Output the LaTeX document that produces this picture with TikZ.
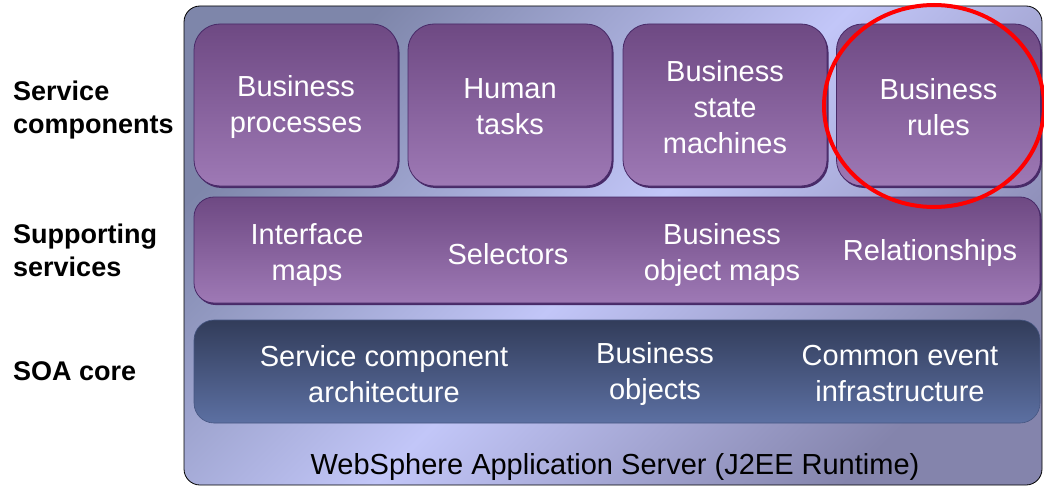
\documentclass[tikz,border=0pt]{standalone}
\usepackage{fontspec}
\setmainfont{Liberation Sans}
\usepackage{tikz}
\usetikzlibrary{shadows}
\usetikzlibrary{positioning}
\definecolor{frameA}{RGB}{126,134,170}
\definecolor{frameB}{RGB}{194,198,248}
\definecolor{frameC}{RGB}{132,132,172}
\definecolor{plumtop}{RGB}{110,73,131}
\definecolor{plumbot}{RGB}{158,121,181}
\definecolor{plumedge}{RGB}{72,42,104}
\definecolor{coretop}{RGB}{50,60,90}
\definecolor{corebot}{RGB}{92,112,162}
\definecolor{coreedge}{RGB}{70,86,130}

\begin{document}
\begin{tikzpicture}[x=1pt, y=-1pt]
\tikzstyle{comp}=[rounded corners=26pt, top color=plumtop, bottom color=plumbot,
                  draw=plumedge, line width=0.8pt, minimum width=204pt, minimum height=162pt,
                  general shadow={fill=plumedge, shadow xshift=1.5pt, shadow yshift=-2pt}];
\tikzstyle{bar}=[rounded corners=20pt, minimum width=846pt];
\tikzstyle{txt}=[text=white, align=center, inner sep=0pt,
                 font=\fontsize{29}{36}\selectfont];
\tikzstyle{side}=[anchor=west, align=left, inner sep=0pt,
                  font=\fontsize{27}{33}\selectfont\bfseries];
\useasboundingbox (0,0) rectangle (1044,487);
\clip (0,0) rectangle (1044,487);
% runtime frame
\draw[rounded corners=16pt, line width=0.8pt, top color=frameA, bottom color=frameC,
      middle color=frameB, shading angle=45] (184,6) rectangle (1042,485);
% service components
\foreach \x/\n/\t in {296/bp/{Business\\processes}, 510/ht/{Human\\tasks},
                      725/sm/{Business\\state\\machines}, 938.5/br/{Business\\rules}}
{\node[comp] (\n) at (\x,105) {};
 \node[txt] (\n t) at ([yshift=-2pt]\n) {\t};}
% supporting services
\node[comp, bar, minimum height=106pt] (sup) at (617,250) {};
\node[txt] (im) at (307,255) {Interface\\maps};
\node[txt] (sel) at (508,254) {Selectors};
\node[txt] (bom) at (722,255) {Business\\object maps};
\node[txt] (rel) at (930,253) {Relationships};
% soa core
\node[bar, top color=coretop, bottom color=corebot, draw=coreedge, line width=0.6pt,
      minimum height=103pt] (soa) at (617,371.5) {};
\node[txt] (sca) at (384,374) {Service component\\architecture};
\node[txt] (bo) at (655,374) {Business\\objects};
\node[txt] (cei) at (900,374) {Common event\\infrastructure};
% runtime label
\node[txt, text=black] (was) at (615,467) {WebSphere Application Server (J2EE Runtime)};
% layer names
\node[side] (lsc) at (13,110) {Service\\components};
\node[side] (lss) at (13,250) {Supporting\\services};
\node[side] (lsoa) at (13,371) {SOA core};
% highlight
\draw[red, line width=4pt] (934,106) ellipse [x radius=110, y radius=101];
\end{tikzpicture}
\end{document}
